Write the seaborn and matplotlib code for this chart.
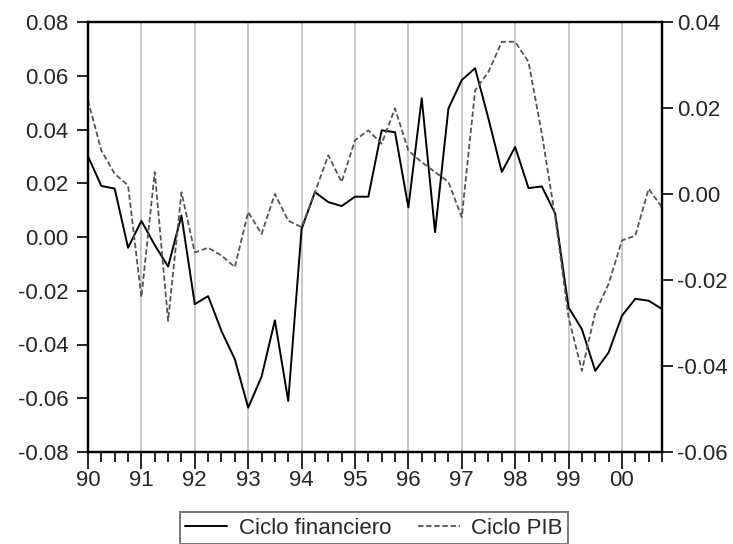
import numpy as np
import pandas as pd
import matplotlib
matplotlib.use("Agg")
import matplotlib.pyplot as plt
from matplotlib.ticker import MultipleLocator, FixedLocator, FixedFormatter
import seaborn as sns

# quarterly series, 1990Q1 .. 2000Q4
ciclo_financiero = [0.030, 0.019, 0.018, -0.004, 0.006, -0.003, -0.011, 0.008,
                    -0.025, -0.022, -0.035, -0.0455, -0.0635, -0.052, -0.031, -0.061,
                    0.003, 0.0167, 0.013, 0.0115, 0.015, 0.015, 0.0397, 0.039,
                    0.011, 0.0516, 0.0018, 0.0478, 0.0584, 0.0628, 0.044, 0.0242,
                    0.0335, 0.0182, 0.0188, 0.0087, -0.0262, -0.0343, -0.0498, -0.043,
                    -0.0293, -0.023, -0.0237, -0.0268]
ciclo_pib = [0.0218, 0.0101, 0.0047, 0.002, -0.024, 0.0051, -0.0295, 0.0004,
             -0.0136, -0.0125, -0.0143, -0.017, -0.0042, -0.0093, 0.0, -0.0062,
             -0.0077, 0.0004, 0.009, 0.0028, 0.0125, 0.0148, 0.0117, 0.0199,
             0.0101, 0.0074, 0.0051, 0.0028, -0.0054, 0.0241, 0.0284, 0.0354,
             0.0354, 0.0307, 0.014, -0.0054, -0.0287, -0.0411, -0.0276, -0.0209,
             -0.0108, -0.0097, 0.0012, -0.0031]
years = list(range(1990, 2001))
year_labels = ["90", "91", "92", "93", "94", "95", "96", "97", "98", "99", "00"]

t = 1990 + np.arange(len(ciclo_financiero)) / 4
df = pd.DataFrame({"t": t, "fin": ciclo_financiero, "pib": ciclo_pib})

sns.set_style("white")
plt.rcParams["font.family"] = ["Liberation Sans", "DejaVu Sans"]
plt.rcParams["font.size"] = 16

fig = plt.figure(figsize=(7.33, 5.44), dpi=100)
ax = fig.add_axes([88 / 733, 1 - 452 / 544, (662 - 88) / 733, (452 - 22) / 544])
ax2 = ax.twinx()

for x in years[1:]:
    ax.axvline(x, color="#c8c8c8", lw=1.4, zorder=0)

sns.lineplot(data=df, x="t", y="fin", ax=ax, color="black", lw=1.4,
             label="Ciclo financiero", legend=False)
sns.lineplot(data=df, x="t", y="pib", ax=ax2, color="#555555", lw=1.3,
             linestyle=(0, (3, 1.5)), label="Ciclo PIB", legend=False)

ax.set_xlim(1990, 2000.75)
ax.set_ylim(-0.08, 0.08)
ax2.set_ylim(-0.06, 0.04)
ax.yaxis.set_major_locator(MultipleLocator(0.02))
ax2.yaxis.set_major_locator(MultipleLocator(0.02))
ax.yaxis.set_major_formatter(plt.FuncFormatter(lambda v, p: f"{v:.2f}"))
ax2.yaxis.set_major_formatter(plt.FuncFormatter(lambda v, p: f"{v:.2f}"))
ax.xaxis.set_major_locator(FixedLocator(years))
ax.xaxis.set_major_formatter(FixedFormatter(year_labels))
ax.xaxis.set_minor_locator(MultipleLocator(0.25))
ax.set_xlabel("")
ax.set_ylabel("")
ax2.set_ylabel("")

for a in (ax, ax2):
    for s in a.spines.values():
        s.set_color("black")
        s.set_linewidth(1.6)
ax.tick_params(axis="y", direction="out", length=8, width=1.4, pad=6, labelsize=16)
ax2.tick_params(axis="y", direction="out", length=8, width=1.4, pad=3, labelsize=16)
ax.tick_params(axis="x", which="major", direction="out", length=12, width=1.4, pad=1, labelsize=16)
ax.tick_params(axis="x", which="minor", direction="out", length=7, width=1.4)
ax.tick_params(left=True, bottom=True, which="both")
ax2.tick_params(right=True)

h1, l1 = ax.get_legend_handles_labels()
h2, l2 = ax2.get_legend_handles_labels()
leg = fig.legend(h1 + h2, l1 + l2, loc="upper center", bbox_to_anchor=(0.51, 1 - 512 / 544),
                 ncol=2, frameon=True, fancybox=False, fontsize=16, handlelength=1.9,
                 handletextpad=0.5, columnspacing=1.2, borderpad=0.25, borderaxespad=0)
leg.get_frame().set_edgecolor("#555555")
leg.get_frame().set_linewidth(1.4)

fig.savefig("out.png", dpi=100)
